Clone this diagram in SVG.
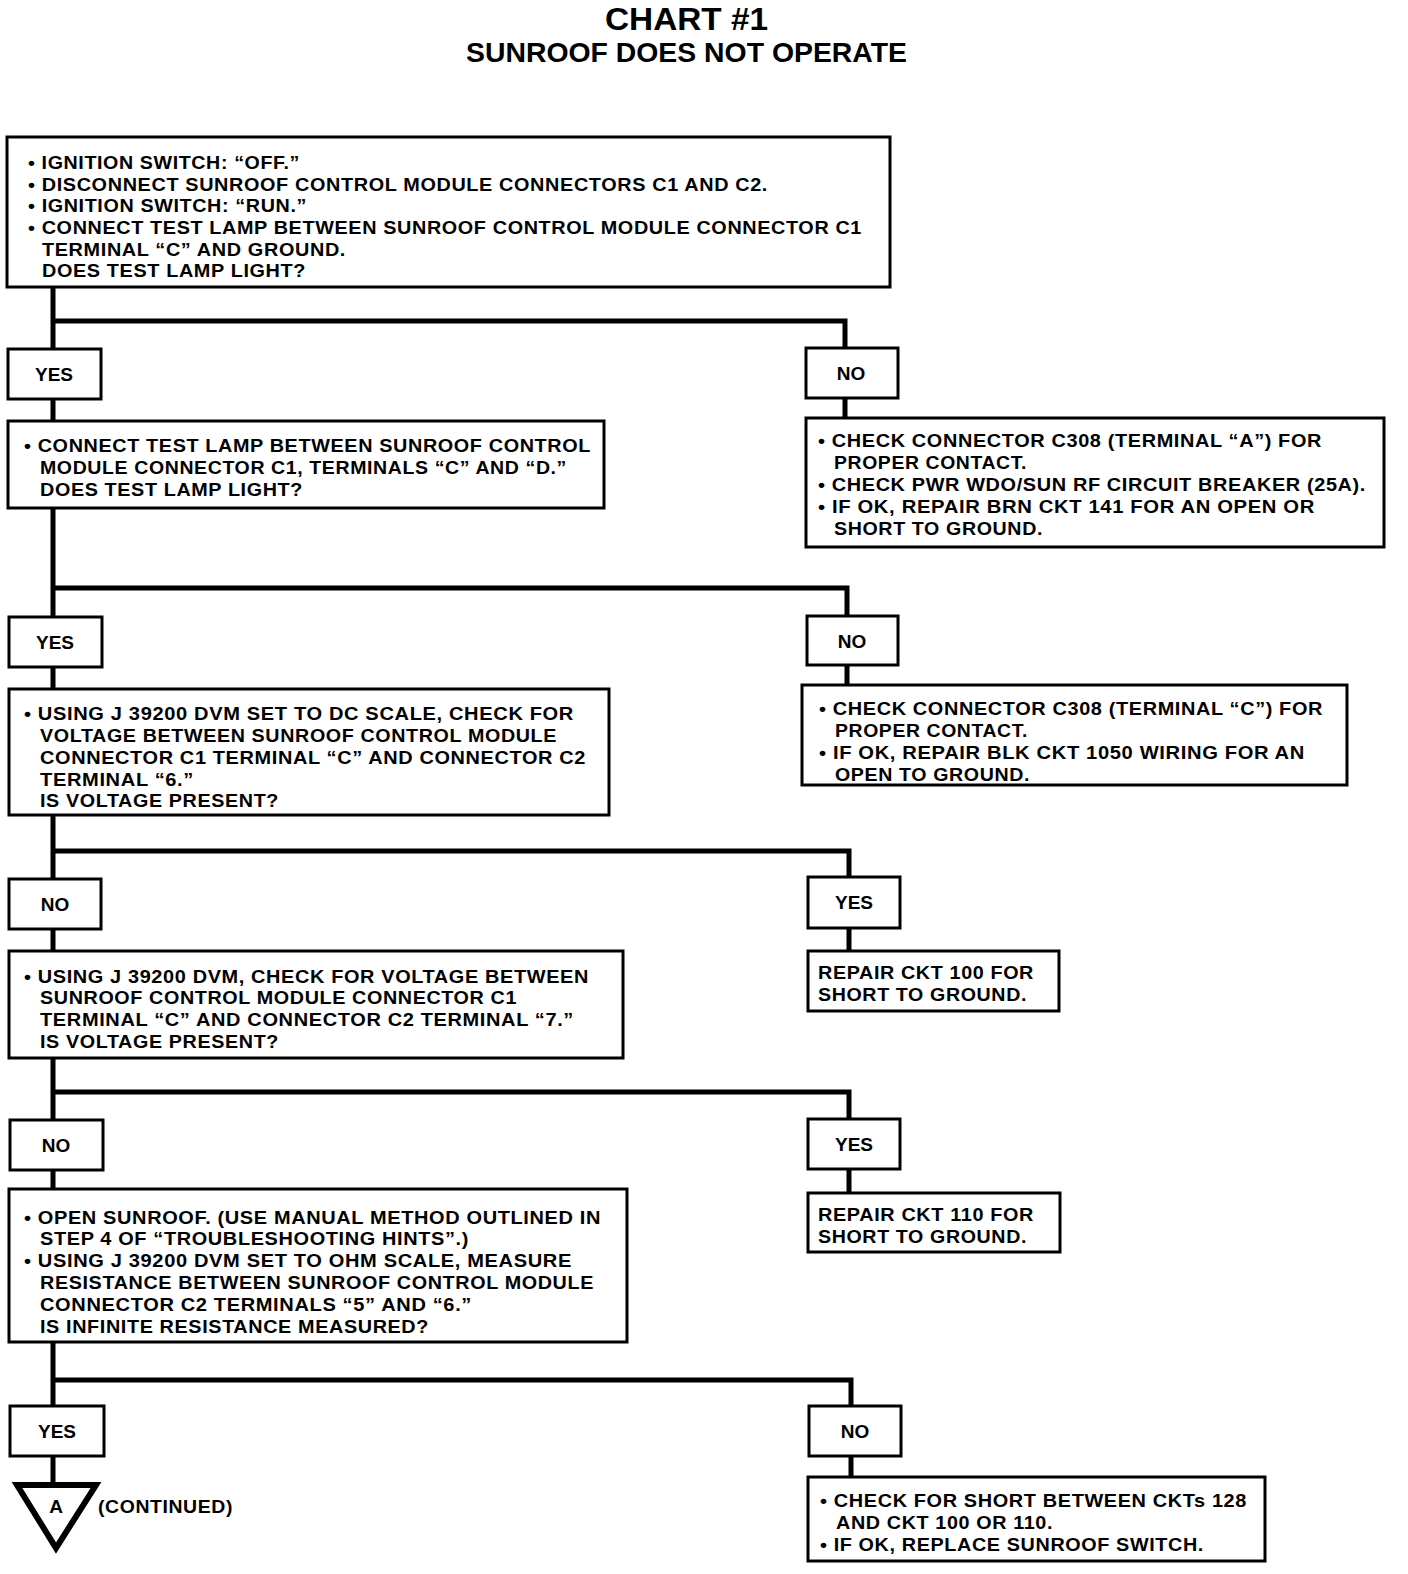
<svg xmlns="http://www.w3.org/2000/svg" width="1408" height="1574" viewBox="0 0 1408 1574">
<style>
.bx{fill:#fff;stroke:#000;stroke-width:3}
.ln{fill:none;stroke:#000;stroke-width:5}
.t{font-family:"Liberation Sans",Arial,sans-serif;font-weight:bold;font-size:19px;fill:#000;letter-spacing:0.6px}
.lb{font-family:"Liberation Sans",Arial,sans-serif;font-weight:bold;font-size:19px;fill:#000;text-anchor:middle}
.ti{font-family:"Liberation Sans",Arial,sans-serif;font-weight:bold;fill:#000}
</style>
<rect width="1408" height="1574" fill="#fff"/>
<g id="title">
<text class="ti" x="605" y="30" font-size="31" textLength="163" lengthAdjust="spacingAndGlyphs">CHART #1</text>
<text class="ti" x="466" y="62" font-size="28" textLength="441" lengthAdjust="spacingAndGlyphs">SUNROOF DOES NOT OPERATE</text>
</g>
<g id="connectors">
<path class="ln" d="M53 287 V1483"/>
<path class="ln" d="M53 321 H845 V420"/>
<path class="ln" d="M53 588 H847 V687"/>
<path class="ln" d="M53 851 H849 V952"/>
<path class="ln" d="M53 1092 H849 V1194"/>
<path class="ln" d="M55 1380 H851 V1478"/>
</g>
<g id="box1">
<rect class="bx" x="7" y="137" width="883" height="150"/>
<text class="t" x="28" y="169" textLength="272" lengthAdjust="spacingAndGlyphs">• IGNITION SWITCH: “OFF.”</text>
<text class="t" x="28" y="191" textLength="740" lengthAdjust="spacingAndGlyphs">• DISCONNECT SUNROOF CONTROL MODULE CONNECTORS C1 AND C2.</text>
<text class="t" x="28" y="212" textLength="279" lengthAdjust="spacingAndGlyphs">• IGNITION SWITCH: “RUN.”</text>
<text class="t" x="28" y="234" textLength="834" lengthAdjust="spacingAndGlyphs">• CONNECT TEST LAMP BETWEEN SUNROOF CONTROL MODULE CONNECTOR C1</text>
<text class="t" x="42" y="256" textLength="304" lengthAdjust="spacingAndGlyphs">TERMINAL “C” AND GROUND.</text>
<text class="t" x="42" y="277" textLength="264" lengthAdjust="spacingAndGlyphs">DOES TEST LAMP LIGHT?</text>
</g>
<g id="yes1"><rect class="bx" x="8" y="349" width="93" height="50"/><text class="lb" x="54" y="381">YES</text></g>
<g id="no1"><rect class="bx" x="806" y="348" width="92" height="50"/><text class="lb" x="851" y="380">NO</text></g>
<g id="box2">
<rect class="bx" x="8" y="421" width="596" height="87"/>
<text class="t" x="24" y="452" textLength="567" lengthAdjust="spacingAndGlyphs">• CONNECT TEST LAMP BETWEEN SUNROOF CONTROL</text>
<text class="t" x="40" y="474" textLength="527" lengthAdjust="spacingAndGlyphs">MODULE CONNECTOR C1, TERMINALS “C” AND “D.”</text>
<text class="t" x="40" y="496" textLength="263" lengthAdjust="spacingAndGlyphs">DOES TEST LAMP LIGHT?</text>
</g>
<g id="nobox1">
<rect class="bx" x="806" y="418" width="578" height="129"/>
<text class="t" x="818" y="447" textLength="504" lengthAdjust="spacingAndGlyphs">• CHECK CONNECTOR C308 (TERMINAL “A”) FOR</text>
<text class="t" x="834" y="469" textLength="193" lengthAdjust="spacingAndGlyphs">PROPER CONTACT.</text>
<text class="t" x="818" y="491" textLength="548" lengthAdjust="spacingAndGlyphs">• CHECK PWR WDO/SUN RF CIRCUIT BREAKER (25A).</text>
<text class="t" x="818" y="513" textLength="497" lengthAdjust="spacingAndGlyphs">• IF OK, REPAIR BRN CKT 141 FOR AN OPEN OR</text>
<text class="t" x="834" y="535" textLength="209" lengthAdjust="spacingAndGlyphs">SHORT TO GROUND.</text>
</g>
<g id="yes2"><rect class="bx" x="9" y="617" width="93" height="50"/><text class="lb" x="55" y="649">YES</text></g>
<g id="no2"><rect class="bx" x="807" y="616" width="91" height="49"/><text class="lb" x="852" y="648">NO</text></g>
<g id="box3">
<rect class="bx" x="9" y="689" width="600" height="126"/>
<text class="t" x="24" y="720" textLength="550" lengthAdjust="spacingAndGlyphs">• USING J 39200 DVM SET TO DC SCALE, CHECK FOR</text>
<text class="t" x="40" y="742" textLength="517" lengthAdjust="spacingAndGlyphs">VOLTAGE BETWEEN SUNROOF CONTROL MODULE</text>
<text class="t" x="40" y="764" textLength="546" lengthAdjust="spacingAndGlyphs">CONNECTOR C1 TERMINAL “C” AND CONNECTOR C2</text>
<text class="t" x="40" y="786" textLength="154" lengthAdjust="spacingAndGlyphs">TERMINAL “6.”</text>
<text class="t" x="40" y="807" textLength="239" lengthAdjust="spacingAndGlyphs">IS VOLTAGE PRESENT?</text>
</g>
<g id="nobox2">
<rect class="bx" x="802" y="685" width="545" height="100"/>
<text class="t" x="819" y="715" textLength="504" lengthAdjust="spacingAndGlyphs">• CHECK CONNECTOR C308 (TERMINAL “C”) FOR</text>
<text class="t" x="835" y="737" textLength="193" lengthAdjust="spacingAndGlyphs">PROPER CONTACT.</text>
<text class="t" x="819" y="759" textLength="486" lengthAdjust="spacingAndGlyphs">• IF OK, REPAIR BLK CKT 1050 WIRING FOR AN</text>
<text class="t" x="835" y="781" textLength="195" lengthAdjust="spacingAndGlyphs">OPEN TO GROUND.</text>
</g>
<g id="no3"><rect class="bx" x="9" y="879" width="92" height="50"/><text class="lb" x="55" y="911">NO</text></g>
<g id="yes3"><rect class="bx" x="808" y="877" width="92" height="51"/><text class="lb" x="854" y="909">YES</text></g>
<g id="box4">
<rect class="bx" x="9" y="951" width="614" height="107"/>
<text class="t" x="24" y="983" textLength="565" lengthAdjust="spacingAndGlyphs">• USING J 39200 DVM, CHECK FOR VOLTAGE BETWEEN</text>
<text class="t" x="40" y="1004" textLength="477" lengthAdjust="spacingAndGlyphs">SUNROOF CONTROL MODULE CONNECTOR C1</text>
<text class="t" x="40" y="1026" textLength="534" lengthAdjust="spacingAndGlyphs">TERMINAL “C” AND CONNECTOR C2 TERMINAL “7.”</text>
<text class="t" x="40" y="1048" textLength="239" lengthAdjust="spacingAndGlyphs">IS VOLTAGE PRESENT?</text>
</g>
<g id="yesbox1">
<rect class="bx" x="808" y="951" width="251" height="60"/>
<text class="t" x="818" y="979" textLength="216" lengthAdjust="spacingAndGlyphs">REPAIR CKT 100 FOR</text>
<text class="t" x="818" y="1001" textLength="209" lengthAdjust="spacingAndGlyphs">SHORT TO GROUND.</text>
</g>
<g id="no4"><rect class="bx" x="10" y="1120" width="93" height="50"/><text class="lb" x="56" y="1152">NO</text></g>
<g id="yes4"><rect class="bx" x="808" y="1119" width="92" height="50"/><text class="lb" x="854" y="1151">YES</text></g>
<g id="box5">
<rect class="bx" x="9" y="1189" width="618" height="153"/>
<text class="t" x="24" y="1224" textLength="577" lengthAdjust="spacingAndGlyphs">• OPEN SUNROOF. (USE MANUAL METHOD OUTLINED IN</text>
<text class="t" x="40" y="1245" textLength="429" lengthAdjust="spacingAndGlyphs">STEP 4 OF “TROUBLESHOOTING HINTS”.)</text>
<text class="t" x="24" y="1267" textLength="548" lengthAdjust="spacingAndGlyphs">• USING J 39200 DVM SET TO OHM SCALE, MEASURE</text>
<text class="t" x="40" y="1289" textLength="554" lengthAdjust="spacingAndGlyphs">RESISTANCE BETWEEN SUNROOF CONTROL MODULE</text>
<text class="t" x="40" y="1311" textLength="432" lengthAdjust="spacingAndGlyphs">CONNECTOR C2 TERMINALS “5” AND “6.”</text>
<text class="t" x="40" y="1333" textLength="389" lengthAdjust="spacingAndGlyphs">IS INFINITE RESISTANCE MEASURED?</text>
</g>
<g id="yesbox2">
<rect class="bx" x="808" y="1193" width="252" height="59"/>
<text class="t" x="818" y="1221" textLength="216" lengthAdjust="spacingAndGlyphs">REPAIR CKT 110 FOR</text>
<text class="t" x="818" y="1243" textLength="209" lengthAdjust="spacingAndGlyphs">SHORT TO GROUND.</text>
</g>
<g id="yes5"><rect class="bx" x="10" y="1406" width="94" height="50"/><text class="lb" x="57" y="1438">YES</text></g>
<g id="no5"><rect class="bx" x="809" y="1406" width="92" height="50"/><text class="lb" x="855" y="1438">NO</text></g>
<g id="contA">
<polygon points="17,1485 96,1485 56,1548" fill="#fff" stroke="#000" stroke-width="6" stroke-linejoin="miter"/>
<text class="lb" x="56" y="1513">A</text>
<text class="t" x="98" y="1513" textLength="135" lengthAdjust="spacingAndGlyphs">(CONTINUED)</text>
</g>
<g id="nobox3">
<rect class="bx" x="808" y="1477" width="457" height="84"/>
<text class="t" x="820" y="1507" textLength="427" lengthAdjust="spacingAndGlyphs">• CHECK FOR SHORT BETWEEN CKTs 128</text>
<text class="t" x="836" y="1529" textLength="217" lengthAdjust="spacingAndGlyphs">AND CKT 100 OR 110.</text>
<text class="t" x="820" y="1551" textLength="384" lengthAdjust="spacingAndGlyphs">• IF OK, REPLACE SUNROOF SWITCH.</text>
</g>
</svg>
